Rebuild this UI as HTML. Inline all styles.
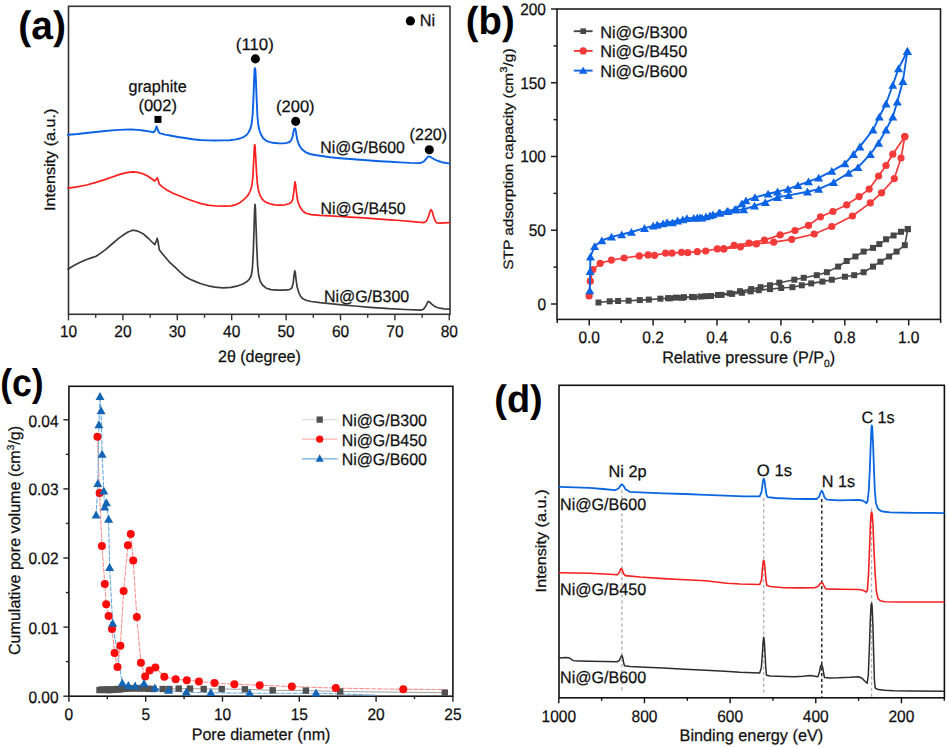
<!DOCTYPE html>
<html><head><meta charset="utf-8"><title>Figure</title>
<style>
html,body{margin:0;padding:0;background:#fff;}
body{width:948px;height:747px;overflow:hidden;}
svg{display:block;font-family:"Liberation Sans", sans-serif;text-rendering:geometricPrecision;}
</style></head>
<body>
<svg width="948" height="747" viewBox="0 0 948 747">
<rect x="0" y="0" width="948" height="747" fill="#ffffff"/>
<rect x="68.5" y="6.3" width="381.5" height="308" fill="none" stroke="#333333" stroke-width="1.6"/>
<line x1="68.5" y1="314.3" x2="68.5" y2="320.3" stroke="#333333" stroke-width="1.4"/>
<text x="68.5" y="337.4" font-size="16.59" text-anchor="middle" fill="#111" stroke="#111" stroke-width="0.25" textLength="17.24" lengthAdjust="spacingAndGlyphs">10</text>
<line x1="95.7" y1="314.3" x2="95.7" y2="317.8" stroke="#333333" stroke-width="1.4"/>
<line x1="122.9" y1="314.3" x2="122.9" y2="320.3" stroke="#333333" stroke-width="1.4"/>
<text x="122.9" y="337.4" font-size="16.59" text-anchor="middle" fill="#111" stroke="#111" stroke-width="0.25" textLength="17.24" lengthAdjust="spacingAndGlyphs">20</text>
<line x1="150.1" y1="314.3" x2="150.1" y2="317.8" stroke="#333333" stroke-width="1.4"/>
<line x1="177.3" y1="314.3" x2="177.3" y2="320.3" stroke="#333333" stroke-width="1.4"/>
<text x="177.3" y="337.4" font-size="16.59" text-anchor="middle" fill="#111" stroke="#111" stroke-width="0.25" textLength="17.24" lengthAdjust="spacingAndGlyphs">30</text>
<line x1="204.5" y1="314.3" x2="204.5" y2="317.8" stroke="#333333" stroke-width="1.4"/>
<line x1="231.7" y1="314.3" x2="231.7" y2="320.3" stroke="#333333" stroke-width="1.4"/>
<text x="231.7" y="337.4" font-size="16.59" text-anchor="middle" fill="#111" stroke="#111" stroke-width="0.25" textLength="17.24" lengthAdjust="spacingAndGlyphs">40</text>
<line x1="258.9" y1="314.3" x2="258.9" y2="317.8" stroke="#333333" stroke-width="1.4"/>
<line x1="286.1" y1="314.3" x2="286.1" y2="320.3" stroke="#333333" stroke-width="1.4"/>
<text x="286.1" y="337.4" font-size="16.59" text-anchor="middle" fill="#111" stroke="#111" stroke-width="0.25" textLength="17.24" lengthAdjust="spacingAndGlyphs">50</text>
<line x1="313.3" y1="314.3" x2="313.3" y2="317.8" stroke="#333333" stroke-width="1.4"/>
<line x1="340.5" y1="314.3" x2="340.5" y2="320.3" stroke="#333333" stroke-width="1.4"/>
<text x="340.5" y="337.4" font-size="16.59" text-anchor="middle" fill="#111" stroke="#111" stroke-width="0.25" textLength="17.24" lengthAdjust="spacingAndGlyphs">60</text>
<line x1="367.7" y1="314.3" x2="367.7" y2="317.8" stroke="#333333" stroke-width="1.4"/>
<line x1="394.9" y1="314.3" x2="394.9" y2="320.3" stroke="#333333" stroke-width="1.4"/>
<text x="394.9" y="337.4" font-size="16.59" text-anchor="middle" fill="#111" stroke="#111" stroke-width="0.25" textLength="17.24" lengthAdjust="spacingAndGlyphs">70</text>
<line x1="422.1" y1="314.3" x2="422.1" y2="317.8" stroke="#333333" stroke-width="1.4"/>
<line x1="449.3" y1="314.3" x2="449.3" y2="320.3" stroke="#333333" stroke-width="1.4"/>
<text x="449.3" y="337.4" font-size="16.59" text-anchor="middle" fill="#111" stroke="#111" stroke-width="0.25" textLength="17.24" lengthAdjust="spacingAndGlyphs">80</text>
<text x="259.4" y="362.3" font-size="16.59" text-anchor="middle" fill="#111" stroke="#111" stroke-width="0.25" textLength="82.85" lengthAdjust="spacingAndGlyphs">2θ (degree)</text>
<text x="54.6" y="159.8" font-size="14.97" text-anchor="middle" fill="#111" stroke="#111" stroke-width="0.25" textLength="102.53" lengthAdjust="spacingAndGlyphs" transform="rotate(-90 54.6 159.8)">Intensity (a.u.)</text>
<text x="42.1" y="38.75" font-size="39.77" text-anchor="middle" fill="#000" font-weight="bold" textLength="47.67" lengthAdjust="spacingAndGlyphs">(a)</text>
<polyline fill="none" stroke="#3c3c3c" stroke-width="1.7" stroke-linejoin="round" stroke-linecap="round" points="68,269.3 73,266 79.2,262.8 86,259.8 92,257.6 96.1,256.2 100,253.6 105.5,249.6 112,244 118.6,238.4 124,234.5 128,232 132.7,230.2 137,230.8 143,233.7 148,238 152,242 154.8,244.6 156.3,241 157.2,238.4 158,241.5 159.3,249.8 163,254.5 169.2,261.8 175,267.2 180.4,272.3 186,277.1 190,279.3 195,281.4 201,283.8 208.1,285.8 215,287.1 223.1,287.8 231,287.4 238,285.8 243,284 247,281.6 249.5,279 251.3,275.5 252.4,268.5 253.3,252 254,230 254.6,210 255,204.4 255.4,208 256,225 256.8,248 257.6,265 258.6,275 260.2,281.2 262.5,285 266.2,288.2 271,289.6 277.5,290.2 284,290.1 289.5,289.6 291.8,288 293.2,283 294.1,275 294.7,270.9 295.3,272.5 296,279 297.1,286.8 298.8,292.5 300.5,296.2 302.5,298.4 306,300.2 311.2,301.5 320,302.6 330,303.6 341.6,304.8 355,306 370,307.3 389.1,308.7 405,309.5 420.8,310.1 423.5,309.2 425.8,306.1 427.6,302.4 428.4,301.4 429.5,302 431.5,303.8 434,305.9 436.6,307.2 440,308.2 444,308.8 449.3,309.1"/>
<polyline fill="none" stroke="#ff1e1e" stroke-width="1.7" stroke-linejoin="round" stroke-linecap="round" points="68,188.2 77,186.8 86.7,185 96,182.4 105.5,179.4 113,176.7 120.5,174.1 127,172.6 132.7,171.9 138,172.4 143,173.7 148,176.3 152,179 154.5,181 156,179.6 157.2,177.8 158.2,180.2 159.3,184.2 163,187.4 167.3,190.2 173,193.2 180.4,196.2 188,199.2 195.4,201.8 201,203.6 208,205.2 216,206 225,206.2 231,205.8 236,204.6 240,202.7 243.7,199.7 246.5,197 248.8,194 250.5,190.5 251.8,186 252.8,178 253.6,163 254.2,150 254.6,144.6 255.1,146 255.7,157 256.5,172 257.3,183 258.4,190 259.8,194.8 262,198.8 264,200.9 266.2,202.4 270,203.8 275,204.8 279.3,205.2 285,204.8 289,203.8 291.3,202.3 292.8,199 293.8,192 294.5,185 295,181.9 295.6,184.5 296.4,192 297.3,199 298.5,203.5 300.5,207.8 303,211.3 306,213.3 311.2,214.6 320,215.3 330,215.8 340,216.5 350,217.1 360,217.7 370,218.4 380,219.1 390,219.8 400,220.5 410,221.4 418,222.2 424,222.6 426.5,221 428.5,216.5 430,211.5 431,209.6 432.2,211.4 433.6,216.5 435.2,221 437,223 440,223.1 444,222.8 449.3,222.6"/>
<polyline fill="none" stroke="#0b62e4" stroke-width="1.9" stroke-linejoin="round" stroke-linecap="round" points="68,134.8 78,134 86,133 96,132 105,131 115,130.1 124,129.6 131,129.5 138,129.9 143,130.5 149,131.4 153.5,132.3 155.3,130.3 156.6,126.4 157.9,130.3 159.5,133.2 165,134.6 170,135.5 178,137 185,138 193,139.2 200,140 208,140.4 215,140.5 223,140.4 230,140.2 236,139.4 240,138.5 244,136.8 246.5,135 248.5,132.5 250.3,129 251.6,124 252.6,115 253.5,97 254.1,80 254.6,69 255,68.2 255.4,70 255.9,80 256.6,98 257.4,116 258.3,125 259.5,130.5 261,134.5 263.2,138.3 266,140.6 269,141.9 272.8,142.8 278,143.3 283.5,143.4 287,142.9 289.5,142 291.3,140.2 292.6,136.5 293.6,131 294.4,128.6 295,128.4 295.7,130.2 296.5,135.5 297.5,140.5 299,144.7 300.8,147.8 302.8,150 306,152.4 310,154 315,155 320,155.7 330,157.2 340,158.2 350,159 360,159.7 370,160.5 380,161.2 390,161.8 400,162.4 410,162.9 418,163.1 421.5,162.8 424,161.3 426.3,158.6 428.3,156.4 430.2,156.8 432.5,158.2 435,159.7 438,161 442,162.2 446,163 449.3,163.4"/>
<circle cx="410.4" cy="20.9" r="4.6" fill="#000"/>
<text x="419.75" y="26.2" font-size="16.59" text-anchor="start" fill="#111" stroke="#111" stroke-width="0.25" textLength="15.35" lengthAdjust="spacingAndGlyphs">Ni</text>
<circle cx="255.4" cy="58.9" r="4.55" fill="#000"/>
<text x="254.85" y="49.8" font-size="16.59" text-anchor="middle" fill="#111" stroke="#111" stroke-width="0.25" textLength="37.92" lengthAdjust="spacingAndGlyphs">(110)</text>
<text x="157.55" y="91.7" font-size="16.59" text-anchor="middle" fill="#111" stroke="#111" stroke-width="0.25" textLength="58.23" lengthAdjust="spacingAndGlyphs">graphite</text>
<text x="157.65" y="110.5" font-size="16.59" text-anchor="middle" fill="#111" stroke="#111" stroke-width="0.25" textLength="38.47" lengthAdjust="spacingAndGlyphs">(002)</text>
<rect x="154.5" y="115.9" width="7" height="7" fill="#000"/>
<circle cx="295.7" cy="121.4" r="4.55" fill="#000"/>
<text x="295.3" y="111.8" font-size="16.59" text-anchor="middle" fill="#111" stroke="#111" stroke-width="0.25" textLength="38.61" lengthAdjust="spacingAndGlyphs">(200)</text>
<circle cx="429.3" cy="149.7" r="4.55" fill="#000"/>
<text x="428.35" y="139.8" font-size="16.59" text-anchor="middle" fill="#111" stroke="#111" stroke-width="0.25" textLength="37.51" lengthAdjust="spacingAndGlyphs">(220)</text>
<text x="320.25" y="153" font-size="16.59" text-anchor="start" fill="#111" stroke="#111" stroke-width="0.25" textLength="84.62" lengthAdjust="spacingAndGlyphs">Ni@G/B600</text>
<text x="320.6" y="214.3" font-size="16.59" text-anchor="start" fill="#111" stroke="#111" stroke-width="0.25" textLength="85.02" lengthAdjust="spacingAndGlyphs">Ni@G/B450</text>
<text x="323.95" y="302.4" font-size="16.59" text-anchor="start" fill="#111" stroke="#111" stroke-width="0.25" textLength="85.22" lengthAdjust="spacingAndGlyphs">Ni@G/B300</text>
<rect x="557" y="9" width="383.5" height="310.4" fill="none" stroke="#1e1e1e" stroke-width="1.6"/>
<line x1="557" y1="304" x2="551" y2="304" stroke="#1e1e1e" stroke-width="1.5"/>
<text x="546" y="309.6" font-size="16.59" text-anchor="end" fill="#111" stroke="#111" stroke-width="0.25" textLength="8.62" lengthAdjust="spacingAndGlyphs">0</text>
<line x1="557" y1="267.12" x2="553.5" y2="267.12" stroke="#1e1e1e" stroke-width="1.5"/>
<line x1="557" y1="230.25" x2="551" y2="230.25" stroke="#1e1e1e" stroke-width="1.5"/>
<text x="546" y="235.6" font-size="16.59" text-anchor="end" fill="#111" stroke="#111" stroke-width="0.25" textLength="17.24" lengthAdjust="spacingAndGlyphs">50</text>
<line x1="557" y1="193.38" x2="553.5" y2="193.38" stroke="#1e1e1e" stroke-width="1.5"/>
<line x1="557" y1="156.5" x2="551" y2="156.5" stroke="#1e1e1e" stroke-width="1.5"/>
<text x="546" y="161.6" font-size="16.59" text-anchor="end" fill="#111" stroke="#111" stroke-width="0.25" textLength="25.86" lengthAdjust="spacingAndGlyphs">100</text>
<line x1="557" y1="119.62" x2="553.5" y2="119.62" stroke="#1e1e1e" stroke-width="1.5"/>
<line x1="557" y1="82.75" x2="551" y2="82.75" stroke="#1e1e1e" stroke-width="1.5"/>
<text x="546" y="88.6" font-size="16.59" text-anchor="end" fill="#111" stroke="#111" stroke-width="0.25" textLength="25.86" lengthAdjust="spacingAndGlyphs">150</text>
<line x1="557" y1="45.88" x2="553.5" y2="45.88" stroke="#1e1e1e" stroke-width="1.5"/>
<line x1="557" y1="9" x2="551" y2="9" stroke="#1e1e1e" stroke-width="1.5"/>
<text x="546" y="14.6" font-size="16.59" text-anchor="end" fill="#111" stroke="#111" stroke-width="0.25" textLength="25.86" lengthAdjust="spacingAndGlyphs">200</text>
<line x1="557.25" y1="319.4" x2="557.25" y2="322.9" stroke="#1e1e1e" stroke-width="1.5"/>
<line x1="589.2" y1="319.4" x2="589.2" y2="325.4" stroke="#1e1e1e" stroke-width="1.5"/>
<text x="589.2" y="342.5" font-size="16.59" text-anchor="middle" fill="#111" stroke="#111" stroke-width="0.25" textLength="21.55" lengthAdjust="spacingAndGlyphs">0.0</text>
<line x1="621.15" y1="319.4" x2="621.15" y2="322.9" stroke="#1e1e1e" stroke-width="1.5"/>
<line x1="653.1" y1="319.4" x2="653.1" y2="325.4" stroke="#1e1e1e" stroke-width="1.5"/>
<text x="653.1" y="342.5" font-size="16.59" text-anchor="middle" fill="#111" stroke="#111" stroke-width="0.25" textLength="21.55" lengthAdjust="spacingAndGlyphs">0.2</text>
<line x1="685.05" y1="319.4" x2="685.05" y2="322.9" stroke="#1e1e1e" stroke-width="1.5"/>
<line x1="717" y1="319.4" x2="717" y2="325.4" stroke="#1e1e1e" stroke-width="1.5"/>
<text x="717" y="342.5" font-size="16.59" text-anchor="middle" fill="#111" stroke="#111" stroke-width="0.25" textLength="21.55" lengthAdjust="spacingAndGlyphs">0.4</text>
<line x1="748.95" y1="319.4" x2="748.95" y2="322.9" stroke="#1e1e1e" stroke-width="1.5"/>
<line x1="780.9" y1="319.4" x2="780.9" y2="325.4" stroke="#1e1e1e" stroke-width="1.5"/>
<text x="780.9" y="342.5" font-size="16.59" text-anchor="middle" fill="#111" stroke="#111" stroke-width="0.25" textLength="21.55" lengthAdjust="spacingAndGlyphs">0.6</text>
<line x1="812.85" y1="319.4" x2="812.85" y2="322.9" stroke="#1e1e1e" stroke-width="1.5"/>
<line x1="844.8" y1="319.4" x2="844.8" y2="325.4" stroke="#1e1e1e" stroke-width="1.5"/>
<text x="844.8" y="342.5" font-size="16.59" text-anchor="middle" fill="#111" stroke="#111" stroke-width="0.25" textLength="21.55" lengthAdjust="spacingAndGlyphs">0.8</text>
<line x1="876.75" y1="319.4" x2="876.75" y2="322.9" stroke="#1e1e1e" stroke-width="1.5"/>
<line x1="908.7" y1="319.4" x2="908.7" y2="325.4" stroke="#1e1e1e" stroke-width="1.5"/>
<text x="908.7" y="342.5" font-size="16.59" text-anchor="middle" fill="#111" stroke="#111" stroke-width="0.25" textLength="21.55" lengthAdjust="spacingAndGlyphs">1.0</text>
<line x1="940.65" y1="319.4" x2="940.65" y2="322.9" stroke="#1e1e1e" stroke-width="1.5"/>
<text x="748.7" y="363.2" font-size="16.59" text-anchor="middle" fill="#111" stroke="#111" stroke-width="0.25" textLength="173.03" lengthAdjust="spacingAndGlyphs">Relative pressure (P/P<tspan font-size="10.5" dy="4">0</tspan><tspan dy="-4">)</tspan></text>
<text x="513.3" y="159.1" font-size="13.58" text-anchor="middle" fill="#111" stroke="#111" stroke-width="0.25" textLength="221.42" lengthAdjust="spacingAndGlyphs" transform="rotate(-90 513.3 159.1)">STP adsorption capacity (cm<tspan font-size="10" dy="-6.5">3</tspan><tspan dy="6.5">/g)</tspan></text>
<text x="490.3" y="33.95" font-size="39.13" text-anchor="middle" fill="#000" font-weight="bold" textLength="48.87" lengthAdjust="spacingAndGlyphs">(b)</text>
<polyline fill="none" stroke="#474747" stroke-width="1.6" stroke-linejoin="round" stroke-linecap="round" points="598.5,302.5 609.7,301.3 618.1,301 628.6,300.7 639.8,300.1 648.8,299.6 660.4,298.7 668,298.2 676,297.6 684,297.2 692,296.9 700.5,296.6 711,296 721.6,294.9 732.1,293.9 741.9,292.8 750.6,291.4 758.7,290.2 770,289.1 781.2,288 792.4,287.2 801.8,285.3 811.2,283.4 822.4,281.6 831.8,279.7 844.9,276.7 854.2,275.2 863.6,272.2 873,266.6 880.4,261.7 889.1,256.5 896.6,251.6 904.8,245.2 907.8,229.1"/>
<rect x="595.5" y="299.5" width="6" height="6" fill="#474747"/>
<rect x="606.7" y="298.3" width="6" height="6" fill="#474747"/>
<rect x="615.1" y="298" width="6" height="6" fill="#474747"/>
<rect x="625.6" y="297.7" width="6" height="6" fill="#474747"/>
<rect x="636.8" y="297.1" width="6" height="6" fill="#474747"/>
<rect x="645.8" y="296.6" width="6" height="6" fill="#474747"/>
<rect x="657.4" y="295.7" width="6" height="6" fill="#474747"/>
<rect x="665" y="295.2" width="6" height="6" fill="#474747"/>
<rect x="673" y="294.6" width="6" height="6" fill="#474747"/>
<rect x="681" y="294.2" width="6" height="6" fill="#474747"/>
<rect x="689" y="293.9" width="6" height="6" fill="#474747"/>
<rect x="697.5" y="293.6" width="6" height="6" fill="#474747"/>
<rect x="708" y="293" width="6" height="6" fill="#474747"/>
<rect x="718.6" y="291.9" width="6" height="6" fill="#474747"/>
<rect x="729.1" y="290.9" width="6" height="6" fill="#474747"/>
<rect x="738.9" y="289.8" width="6" height="6" fill="#474747"/>
<rect x="747.6" y="288.4" width="6" height="6" fill="#474747"/>
<rect x="755.7" y="287.2" width="6" height="6" fill="#474747"/>
<rect x="767" y="286.1" width="6" height="6" fill="#474747"/>
<rect x="778.2" y="285" width="6" height="6" fill="#474747"/>
<rect x="789.4" y="284.2" width="6" height="6" fill="#474747"/>
<rect x="798.8" y="282.3" width="6" height="6" fill="#474747"/>
<rect x="808.2" y="280.4" width="6" height="6" fill="#474747"/>
<rect x="819.4" y="278.6" width="6" height="6" fill="#474747"/>
<rect x="828.8" y="276.7" width="6" height="6" fill="#474747"/>
<rect x="841.9" y="273.7" width="6" height="6" fill="#474747"/>
<rect x="851.2" y="272.2" width="6" height="6" fill="#474747"/>
<rect x="860.6" y="269.2" width="6" height="6" fill="#474747"/>
<rect x="870" y="263.6" width="6" height="6" fill="#474747"/>
<rect x="877.4" y="258.7" width="6" height="6" fill="#474747"/>
<rect x="886.1" y="253.5" width="6" height="6" fill="#474747"/>
<rect x="893.6" y="248.6" width="6" height="6" fill="#474747"/>
<rect x="901.8" y="242.2" width="6" height="6" fill="#474747"/>
<rect x="904.8" y="226.1" width="6" height="6" fill="#474747"/>
<polyline fill="none" stroke="#474747" stroke-width="1.6" stroke-linejoin="round" stroke-linecap="round" points="907.8,229.1 901,231.8 893.6,235.5 886.1,239.3 879.3,244.1 873,247.9 863.6,251.6 855.4,256.5 846.7,261 838.1,266.6 826.9,272.2 816.8,275.2 803.7,277.8 794.3,279.7 779.3,282.7 770,285.3 760.6,287.2 751.2,289.1 740,291.2 729.7,293.3 718,295 706,296.2 694,297.2 682,297.8 670,298.3"/>
<rect x="904.8" y="226.1" width="6" height="6" fill="#474747"/>
<rect x="898" y="228.8" width="6" height="6" fill="#474747"/>
<rect x="890.6" y="232.5" width="6" height="6" fill="#474747"/>
<rect x="883.1" y="236.3" width="6" height="6" fill="#474747"/>
<rect x="876.3" y="241.1" width="6" height="6" fill="#474747"/>
<rect x="870" y="244.9" width="6" height="6" fill="#474747"/>
<rect x="860.6" y="248.6" width="6" height="6" fill="#474747"/>
<rect x="852.4" y="253.5" width="6" height="6" fill="#474747"/>
<rect x="843.7" y="258" width="6" height="6" fill="#474747"/>
<rect x="835.1" y="263.6" width="6" height="6" fill="#474747"/>
<rect x="823.9" y="269.2" width="6" height="6" fill="#474747"/>
<rect x="813.8" y="272.2" width="6" height="6" fill="#474747"/>
<rect x="800.7" y="274.8" width="6" height="6" fill="#474747"/>
<rect x="791.3" y="276.7" width="6" height="6" fill="#474747"/>
<rect x="776.3" y="279.7" width="6" height="6" fill="#474747"/>
<rect x="767" y="282.3" width="6" height="6" fill="#474747"/>
<rect x="757.6" y="284.2" width="6" height="6" fill="#474747"/>
<rect x="748.2" y="286.1" width="6" height="6" fill="#474747"/>
<rect x="737" y="288.2" width="6" height="6" fill="#474747"/>
<rect x="726.7" y="290.3" width="6" height="6" fill="#474747"/>
<rect x="715" y="292" width="6" height="6" fill="#474747"/>
<rect x="703" y="293.2" width="6" height="6" fill="#474747"/>
<rect x="691" y="294.2" width="6" height="6" fill="#474747"/>
<rect x="679" y="294.8" width="6" height="6" fill="#474747"/>
<rect x="667" y="295.3" width="6" height="6" fill="#474747"/>
<polyline fill="none" stroke="#f53a3a" stroke-width="1.7" stroke-linejoin="round" stroke-linecap="round" points="589.1,296 590.3,281.2 592.9,269.6 600.2,263.3 611.4,260.1 624.1,258 639.3,255.9 648.1,254.9 654.5,255.3 665.6,253.2 672,253.2 681.5,252.3 687.8,252.7 697.3,251.7 705.7,251 717.3,248.9 723.7,248.9 740.5,246.8 756.4,243.9 773.7,242.2 791.7,239.3 814.2,234 831.8,226.5 852.4,216 870.3,202.9 881.6,192.8 894.3,178.6 901,158 904.8,136.6"/>
<circle cx="589.1" cy="296" r="3.6" fill="#f53a3a"/>
<circle cx="590.3" cy="281.2" r="3.6" fill="#f53a3a"/>
<circle cx="592.9" cy="269.6" r="3.6" fill="#f53a3a"/>
<circle cx="600.2" cy="263.3" r="3.6" fill="#f53a3a"/>
<circle cx="611.4" cy="260.1" r="3.6" fill="#f53a3a"/>
<circle cx="624.1" cy="258" r="3.6" fill="#f53a3a"/>
<circle cx="639.3" cy="255.9" r="3.6" fill="#f53a3a"/>
<circle cx="648.1" cy="254.9" r="3.6" fill="#f53a3a"/>
<circle cx="654.5" cy="255.3" r="3.6" fill="#f53a3a"/>
<circle cx="665.6" cy="253.2" r="3.6" fill="#f53a3a"/>
<circle cx="672" cy="253.2" r="3.6" fill="#f53a3a"/>
<circle cx="681.5" cy="252.3" r="3.6" fill="#f53a3a"/>
<circle cx="687.8" cy="252.7" r="3.6" fill="#f53a3a"/>
<circle cx="697.3" cy="251.7" r="3.6" fill="#f53a3a"/>
<circle cx="705.7" cy="251" r="3.6" fill="#f53a3a"/>
<circle cx="717.3" cy="248.9" r="3.6" fill="#f53a3a"/>
<circle cx="723.7" cy="248.9" r="3.6" fill="#f53a3a"/>
<circle cx="740.5" cy="246.8" r="3.6" fill="#f53a3a"/>
<circle cx="756.4" cy="243.9" r="3.6" fill="#f53a3a"/>
<circle cx="773.7" cy="242.2" r="3.6" fill="#f53a3a"/>
<circle cx="791.7" cy="239.3" r="3.6" fill="#f53a3a"/>
<circle cx="814.2" cy="234" r="3.6" fill="#f53a3a"/>
<circle cx="831.8" cy="226.5" r="3.6" fill="#f53a3a"/>
<circle cx="852.4" cy="216" r="3.6" fill="#f53a3a"/>
<circle cx="870.3" cy="202.9" r="3.6" fill="#f53a3a"/>
<circle cx="881.6" cy="192.8" r="3.6" fill="#f53a3a"/>
<circle cx="894.3" cy="178.6" r="3.6" fill="#f53a3a"/>
<circle cx="901" cy="158" r="3.6" fill="#f53a3a"/>
<circle cx="904.8" cy="136.6" r="3.6" fill="#f53a3a"/>
<polyline fill="none" stroke="#f53a3a" stroke-width="1.7" stroke-linejoin="round" stroke-linecap="round" points="904.8,136.6 892.8,154.2 886,165.5 878.6,176 869.2,189.1 859.1,196.6 846.7,204.8 832.9,211.5 820.5,216.8 808.5,225.4 795,230.5 780.2,234.9 764.5,240.1 749,243.2 734.2,245.4 723.7,248.9"/>
<circle cx="904.8" cy="136.6" r="3.6" fill="#f53a3a"/>
<circle cx="892.8" cy="154.2" r="3.6" fill="#f53a3a"/>
<circle cx="886" cy="165.5" r="3.6" fill="#f53a3a"/>
<circle cx="878.6" cy="176" r="3.6" fill="#f53a3a"/>
<circle cx="869.2" cy="189.1" r="3.6" fill="#f53a3a"/>
<circle cx="859.1" cy="196.6" r="3.6" fill="#f53a3a"/>
<circle cx="846.7" cy="204.8" r="3.6" fill="#f53a3a"/>
<circle cx="832.9" cy="211.5" r="3.6" fill="#f53a3a"/>
<circle cx="820.5" cy="216.8" r="3.6" fill="#f53a3a"/>
<circle cx="808.5" cy="225.4" r="3.6" fill="#f53a3a"/>
<circle cx="795" cy="230.5" r="3.6" fill="#f53a3a"/>
<circle cx="780.2" cy="234.9" r="3.6" fill="#f53a3a"/>
<circle cx="764.5" cy="240.1" r="3.6" fill="#f53a3a"/>
<circle cx="749" cy="243.2" r="3.6" fill="#f53a3a"/>
<circle cx="734.2" cy="245.4" r="3.6" fill="#f53a3a"/>
<circle cx="723.7" cy="248.9" r="3.6" fill="#f53a3a"/>
<polyline fill="none" stroke="#0b63e5" stroke-width="1.9" stroke-linejoin="round" stroke-linecap="round" points="589.8,290.5 590.1,271.2 590.4,256.7 594.6,246.3 601.9,240.5 611.5,236.9 621.7,234.5 631.4,232 644.5,228.2 653.2,225.9 663.1,223.6 672.4,222.6 682.8,219.5 693.8,218 700,217.6 706,216.5 713,214.6 720,212.9 727,211.3 734.5,209.9 743.6,209.5 754.5,205.9 765.3,202.4 777.5,197.3 788.7,195.4 807.4,191.7 818.7,189.1 833.6,182.3 848.6,173 858,167.3 870.3,154.2 878.6,143 886,129.9 892.8,116.8 897.3,101.8 902.9,81.2 907.4,51.2"/>
<polygon fill="#0b63e5" points="589.8,286.42 585.3,294.22 594.3,294.22"/>
<polygon fill="#0b63e5" points="590.1,267.12 585.6,274.92 594.6,274.92"/>
<polygon fill="#0b63e5" points="590.4,252.62 585.9,260.42 594.9,260.42"/>
<polygon fill="#0b63e5" points="594.6,242.22 590.1,250.02 599.1,250.02"/>
<polygon fill="#0b63e5" points="601.9,236.42 597.4,244.22 606.4,244.22"/>
<polygon fill="#0b63e5" points="611.5,232.82 607,240.62 616,240.62"/>
<polygon fill="#0b63e5" points="621.7,230.42 617.2,238.22 626.2,238.22"/>
<polygon fill="#0b63e5" points="631.4,227.92 626.9,235.72 635.9,235.72"/>
<polygon fill="#0b63e5" points="644.5,224.12 640,231.92 649,231.92"/>
<polygon fill="#0b63e5" points="653.2,221.82 648.7,229.62 657.7,229.62"/>
<polygon fill="#0b63e5" points="663.1,219.52 658.6,227.32 667.6,227.32"/>
<polygon fill="#0b63e5" points="672.4,218.52 667.9,226.32 676.9,226.32"/>
<polygon fill="#0b63e5" points="682.8,215.42 678.3,223.22 687.3,223.22"/>
<polygon fill="#0b63e5" points="693.8,213.92 689.3,221.72 698.3,221.72"/>
<polygon fill="#0b63e5" points="700,213.52 695.5,221.32 704.5,221.32"/>
<polygon fill="#0b63e5" points="706,212.42 701.5,220.22 710.5,220.22"/>
<polygon fill="#0b63e5" points="713,210.52 708.5,218.32 717.5,218.32"/>
<polygon fill="#0b63e5" points="720,208.82 715.5,216.62 724.5,216.62"/>
<polygon fill="#0b63e5" points="727,207.22 722.5,215.02 731.5,215.02"/>
<polygon fill="#0b63e5" points="734.5,205.82 730,213.62 739,213.62"/>
<polygon fill="#0b63e5" points="743.6,205.42 739.1,213.22 748.1,213.22"/>
<polygon fill="#0b63e5" points="754.5,201.82 750,209.62 759,209.62"/>
<polygon fill="#0b63e5" points="765.3,198.32 760.8,206.12 769.8,206.12"/>
<polygon fill="#0b63e5" points="777.5,193.22 773,201.02 782,201.02"/>
<polygon fill="#0b63e5" points="788.7,191.32 784.2,199.12 793.2,199.12"/>
<polygon fill="#0b63e5" points="807.4,187.62 802.9,195.42 811.9,195.42"/>
<polygon fill="#0b63e5" points="818.7,185.02 814.2,192.82 823.2,192.82"/>
<polygon fill="#0b63e5" points="833.6,178.22 829.1,186.02 838.1,186.02"/>
<polygon fill="#0b63e5" points="848.6,168.92 844.1,176.72 853.1,176.72"/>
<polygon fill="#0b63e5" points="858,163.22 853.5,171.02 862.5,171.02"/>
<polygon fill="#0b63e5" points="870.3,150.12 865.8,157.92 874.8,157.92"/>
<polygon fill="#0b63e5" points="878.6,138.92 874.1,146.72 883.1,146.72"/>
<polygon fill="#0b63e5" points="886,125.82 881.5,133.62 890.5,133.62"/>
<polygon fill="#0b63e5" points="892.8,112.72 888.3,120.52 897.3,120.52"/>
<polygon fill="#0b63e5" points="897.3,97.72 892.8,105.52 901.8,105.52"/>
<polygon fill="#0b63e5" points="902.9,77.12 898.4,84.92 907.4,84.92"/>
<polygon fill="#0b63e5" points="907.4,47.12 902.9,54.92 911.9,54.92"/>
<polyline fill="none" stroke="#0b63e5" stroke-width="1.9" stroke-linejoin="round" stroke-linecap="round" points="907.4,51.2 898.5,68.5 892.8,85 886,103.7 879.3,116.8 873,129.9 859.9,146.7 853.5,154.2 844.9,163.6 831.8,171.1 818.7,177.8 808.5,181.6 798,185.3 788,189.1 777.5,191.7 768.1,193.8 755,197.3 746,200.6 741.9,203.5 736,209.2 728,211.1 719,212.9 710,215.6 702,217.8 697.3,217.6 686.9,218.4 677.6,220.7 667.1,222.4 657.3,224.7"/>
<polygon fill="#0b63e5" points="907.4,47.12 902.9,54.92 911.9,54.92"/>
<polygon fill="#0b63e5" points="898.5,64.42 894,72.22 903,72.22"/>
<polygon fill="#0b63e5" points="892.8,80.92 888.3,88.72 897.3,88.72"/>
<polygon fill="#0b63e5" points="886,99.62 881.5,107.42 890.5,107.42"/>
<polygon fill="#0b63e5" points="879.3,112.72 874.8,120.52 883.8,120.52"/>
<polygon fill="#0b63e5" points="873,125.82 868.5,133.62 877.5,133.62"/>
<polygon fill="#0b63e5" points="859.9,142.62 855.4,150.42 864.4,150.42"/>
<polygon fill="#0b63e5" points="853.5,150.12 849,157.92 858,157.92"/>
<polygon fill="#0b63e5" points="844.9,159.52 840.4,167.32 849.4,167.32"/>
<polygon fill="#0b63e5" points="831.8,167.02 827.3,174.82 836.3,174.82"/>
<polygon fill="#0b63e5" points="818.7,173.72 814.2,181.52 823.2,181.52"/>
<polygon fill="#0b63e5" points="808.5,177.52 804,185.32 813,185.32"/>
<polygon fill="#0b63e5" points="798,181.22 793.5,189.02 802.5,189.02"/>
<polygon fill="#0b63e5" points="788,185.02 783.5,192.82 792.5,192.82"/>
<polygon fill="#0b63e5" points="777.5,187.62 773,195.42 782,195.42"/>
<polygon fill="#0b63e5" points="768.1,189.72 763.6,197.52 772.6,197.52"/>
<polygon fill="#0b63e5" points="755,193.22 750.5,201.02 759.5,201.02"/>
<polygon fill="#0b63e5" points="746,196.52 741.5,204.32 750.5,204.32"/>
<polygon fill="#0b63e5" points="741.9,199.42 737.4,207.22 746.4,207.22"/>
<polygon fill="#0b63e5" points="736,205.12 731.5,212.92 740.5,212.92"/>
<polygon fill="#0b63e5" points="728,207.02 723.5,214.82 732.5,214.82"/>
<polygon fill="#0b63e5" points="719,208.82 714.5,216.62 723.5,216.62"/>
<polygon fill="#0b63e5" points="710,211.52 705.5,219.32 714.5,219.32"/>
<polygon fill="#0b63e5" points="702,213.72 697.5,221.52 706.5,221.52"/>
<polygon fill="#0b63e5" points="697.3,213.52 692.8,221.32 701.8,221.32"/>
<polygon fill="#0b63e5" points="686.9,214.32 682.4,222.12 691.4,222.12"/>
<polygon fill="#0b63e5" points="677.6,216.62 673.1,224.42 682.1,224.42"/>
<polygon fill="#0b63e5" points="667.1,218.32 662.6,226.12 671.6,226.12"/>
<polygon fill="#0b63e5" points="657.3,220.62 652.8,228.42 661.8,228.42"/>
<line x1="573.8" y1="31.2" x2="592.6" y2="31.2" stroke="#474747" stroke-width="1.9"/>
<rect x="580.4" y="28.4" width="5.6" height="5.6" fill="#474747"/>
<text x="600.15" y="37.5" font-size="16.59" text-anchor="start" fill="#111" stroke="#111" stroke-width="0.25" textLength="87.04" lengthAdjust="spacingAndGlyphs">Ni@G/B300</text>
<line x1="573.8" y1="50.9" x2="592.6" y2="50.9" stroke="#f53a3a" stroke-width="1.9"/>
<circle cx="583.2" cy="50.9" r="3.6" fill="#f53a3a"/>
<text x="600.15" y="57.1" font-size="16.59" text-anchor="start" fill="#111" stroke="#111" stroke-width="0.25" textLength="87.04" lengthAdjust="spacingAndGlyphs">Ni@G/B450</text>
<line x1="573.8" y1="70.6" x2="592.6" y2="70.6" stroke="#0b63e5" stroke-width="1.9"/>
<polygon fill="#0b63e5" points="583.2,66.7 578.9,73.7 587.5,73.7"/>
<text x="600.15" y="76.7" font-size="16.59" text-anchor="start" fill="#111" stroke="#111" stroke-width="0.25" textLength="87.04" lengthAdjust="spacingAndGlyphs">Ni@G/B600</text>
<rect x="68.9" y="386.3" width="384" height="309.9" fill="none" stroke="#151515" stroke-width="1.6"/>
<line x1="68.9" y1="696.2" x2="63.4" y2="696.2" stroke="#222" stroke-width="1.4"/>
<text x="58.6" y="702.7" font-size="16.59" text-anchor="end" fill="#111" stroke="#111" stroke-width="0.25" textLength="30.17" lengthAdjust="spacingAndGlyphs">0.00</text>
<line x1="68.9" y1="661.65" x2="65.9" y2="661.65" stroke="#222" stroke-width="1.4"/>
<line x1="68.9" y1="627.1" x2="63.4" y2="627.1" stroke="#222" stroke-width="1.4"/>
<text x="58.6" y="633.9" font-size="16.59" text-anchor="end" fill="#111" stroke="#111" stroke-width="0.25" textLength="30.17" lengthAdjust="spacingAndGlyphs">0.01</text>
<line x1="68.9" y1="592.55" x2="65.9" y2="592.55" stroke="#222" stroke-width="1.4"/>
<line x1="68.9" y1="558" x2="63.4" y2="558" stroke="#222" stroke-width="1.4"/>
<text x="58.6" y="564.1" font-size="16.59" text-anchor="end" fill="#111" stroke="#111" stroke-width="0.25" textLength="30.17" lengthAdjust="spacingAndGlyphs">0.02</text>
<line x1="68.9" y1="523.45" x2="65.9" y2="523.45" stroke="#222" stroke-width="1.4"/>
<line x1="68.9" y1="488.9" x2="63.4" y2="488.9" stroke="#222" stroke-width="1.4"/>
<text x="58.6" y="495.3" font-size="16.59" text-anchor="end" fill="#111" stroke="#111" stroke-width="0.25" textLength="30.17" lengthAdjust="spacingAndGlyphs">0.03</text>
<line x1="68.9" y1="454.35" x2="65.9" y2="454.35" stroke="#222" stroke-width="1.4"/>
<line x1="68.9" y1="419.8" x2="63.4" y2="419.8" stroke="#222" stroke-width="1.4"/>
<text x="58.6" y="426.5" font-size="16.59" text-anchor="end" fill="#111" stroke="#111" stroke-width="0.25" textLength="30.17" lengthAdjust="spacingAndGlyphs">0.04</text>
<line x1="68.9" y1="696.2" x2="68.9" y2="701.7" stroke="#222" stroke-width="1.4"/>
<text x="68.9" y="719.8" font-size="16.59" text-anchor="middle" fill="#111" stroke="#111" stroke-width="0.25" textLength="8.62" lengthAdjust="spacingAndGlyphs">0</text>
<line x1="107.3" y1="696.2" x2="107.3" y2="699.2" stroke="#222" stroke-width="1.4"/>
<line x1="145.7" y1="696.2" x2="145.7" y2="701.7" stroke="#222" stroke-width="1.4"/>
<text x="145.7" y="719.8" font-size="16.59" text-anchor="middle" fill="#111" stroke="#111" stroke-width="0.25" textLength="8.62" lengthAdjust="spacingAndGlyphs">5</text>
<line x1="184.1" y1="696.2" x2="184.1" y2="699.2" stroke="#222" stroke-width="1.4"/>
<line x1="222.5" y1="696.2" x2="222.5" y2="701.7" stroke="#222" stroke-width="1.4"/>
<text x="222.5" y="719.8" font-size="16.59" text-anchor="middle" fill="#111" stroke="#111" stroke-width="0.25" textLength="17.24" lengthAdjust="spacingAndGlyphs">10</text>
<line x1="260.9" y1="696.2" x2="260.9" y2="699.2" stroke="#222" stroke-width="1.4"/>
<line x1="299.3" y1="696.2" x2="299.3" y2="701.7" stroke="#222" stroke-width="1.4"/>
<text x="299.3" y="719.8" font-size="16.59" text-anchor="middle" fill="#111" stroke="#111" stroke-width="0.25" textLength="17.24" lengthAdjust="spacingAndGlyphs">15</text>
<line x1="337.7" y1="696.2" x2="337.7" y2="699.2" stroke="#222" stroke-width="1.4"/>
<line x1="376.1" y1="696.2" x2="376.1" y2="701.7" stroke="#222" stroke-width="1.4"/>
<text x="376.1" y="719.8" font-size="16.59" text-anchor="middle" fill="#111" stroke="#111" stroke-width="0.25" textLength="17.24" lengthAdjust="spacingAndGlyphs">20</text>
<line x1="414.5" y1="696.2" x2="414.5" y2="699.2" stroke="#222" stroke-width="1.4"/>
<line x1="452.9" y1="696.2" x2="452.9" y2="701.7" stroke="#222" stroke-width="1.4"/>
<text x="452.9" y="719.8" font-size="16.59" text-anchor="middle" fill="#111" stroke="#111" stroke-width="0.25" textLength="17.24" lengthAdjust="spacingAndGlyphs">25</text>
<text x="261.05" y="740.3" font-size="16.59" text-anchor="middle" fill="#111" stroke="#111" stroke-width="0.25" textLength="138.84" lengthAdjust="spacingAndGlyphs">Pore diameter (nm)</text>
<text x="20.3" y="540.5" font-size="16.07" text-anchor="middle" fill="#111" stroke="#111" stroke-width="0.25" textLength="229.22" lengthAdjust="spacingAndGlyphs" transform="rotate(-90 20.3 540.5)">Cumulative pore volume (cm<tspan font-size="10" dy="-6.5">3</tspan><tspan dy="6.5">/g)</tspan></text>
<text x="21.95" y="396.45" font-size="38.69" text-anchor="middle" fill="#000" font-weight="bold" textLength="43.5" lengthAdjust="spacingAndGlyphs">(c)</text>
<polyline fill="none" stroke="#a0a0a0" stroke-width="1" stroke-linejoin="round" stroke-linecap="round" points="99.5,690 102,689.5 104.5,690 107,689.3 109.5,690.2 112,689.3 114.5,689.8 117,689 119.5,689.5 122,689 125,688.7 128.4,688.6 132,688.4 136,688.4 140,688.6 144,688.4 148,688.8 153.4,689 162.7,689 169.4,689 178.7,688.6 190,688.6 203.7,689 221.7,689 244.9,689.3 272.7,690.3 305.9,690.6 340.2,691.5 444.8,692.7"/>
<polyline fill="none" stroke="#ff9090" stroke-width="1.1" stroke-linejoin="round" stroke-linecap="round" stroke-dasharray="4 2" points="97.4,436.7 99.6,493.1 101.9,546 104.8,583.9 106.2,604.3 108.6,615.9 112,628.9 114.6,653 117.5,667 120.4,645.8 123.6,591.1 127.9,545.3 130.8,534 133.2,560.5 136.8,616.9 140.9,662.7 145.2,676.6 149.6,670.6 155.4,667.5 164.3,676.8 175.7,679.3 186.8,680.2 198.9,681.4 214.5,683 234.4,684.2 259.7,685.2 291.8,686.6 335.8,688.1 403.3,689.3 446,689.6"/>
<polyline fill="none" stroke="#6aaae0" stroke-width="1.1" stroke-linejoin="round" stroke-linecap="round" stroke-dasharray="4 2" points="96.1,515.3 97.8,483.9 98.9,425 100,396.7 101.1,411 102.1,454.5 103.8,491.3 104.7,507.4 106.4,503.1 108.6,519.6 109.6,567.7 112.7,623.6 122.3,683.4 128.4,685.8 135.1,686.3 144,683.9 154.9,688.2 168.6,690.6 186.3,692.3 210.8,692.7 249.6,693.2 316,693.2 374,695"/>
<rect x="96.3" y="686.8" width="6.4" height="6.4" fill="#505050"/>
<rect x="98.8" y="686.3" width="6.4" height="6.4" fill="#505050"/>
<rect x="101.3" y="686.8" width="6.4" height="6.4" fill="#505050"/>
<rect x="103.8" y="686.1" width="6.4" height="6.4" fill="#505050"/>
<rect x="106.3" y="687" width="6.4" height="6.4" fill="#505050"/>
<rect x="108.8" y="686.1" width="6.4" height="6.4" fill="#505050"/>
<rect x="111.3" y="686.6" width="6.4" height="6.4" fill="#505050"/>
<rect x="113.8" y="685.8" width="6.4" height="6.4" fill="#505050"/>
<rect x="116.3" y="686.3" width="6.4" height="6.4" fill="#505050"/>
<rect x="118.8" y="685.8" width="6.4" height="6.4" fill="#505050"/>
<rect x="121.8" y="685.5" width="6.4" height="6.4" fill="#505050"/>
<rect x="125.2" y="685.4" width="6.4" height="6.4" fill="#505050"/>
<rect x="128.8" y="685.2" width="6.4" height="6.4" fill="#505050"/>
<rect x="132.8" y="685.2" width="6.4" height="6.4" fill="#505050"/>
<rect x="136.8" y="685.4" width="6.4" height="6.4" fill="#505050"/>
<rect x="140.8" y="685.2" width="6.4" height="6.4" fill="#505050"/>
<rect x="144.8" y="685.6" width="6.4" height="6.4" fill="#505050"/>
<rect x="150.2" y="685.8" width="6.4" height="6.4" fill="#505050"/>
<rect x="159.5" y="685.8" width="6.4" height="6.4" fill="#505050"/>
<rect x="166.2" y="685.8" width="6.4" height="6.4" fill="#505050"/>
<rect x="175.5" y="685.4" width="6.4" height="6.4" fill="#505050"/>
<rect x="186.8" y="685.4" width="6.4" height="6.4" fill="#505050"/>
<rect x="200.5" y="685.8" width="6.4" height="6.4" fill="#505050"/>
<rect x="218.5" y="685.8" width="6.4" height="6.4" fill="#505050"/>
<rect x="241.7" y="686.1" width="6.4" height="6.4" fill="#505050"/>
<rect x="269.5" y="687.1" width="6.4" height="6.4" fill="#505050"/>
<rect x="302.7" y="687.4" width="6.4" height="6.4" fill="#505050"/>
<rect x="337" y="688.3" width="6.4" height="6.4" fill="#505050"/>
<rect x="441.6" y="689.5" width="6.4" height="6.4" fill="#505050"/>
<circle cx="97.4" cy="436.7" r="4" fill="#ff0a0a"/>
<circle cx="99.6" cy="493.1" r="4" fill="#ff0a0a"/>
<circle cx="101.9" cy="546" r="4" fill="#ff0a0a"/>
<circle cx="104.8" cy="583.9" r="4" fill="#ff0a0a"/>
<circle cx="106.2" cy="604.3" r="4" fill="#ff0a0a"/>
<circle cx="108.6" cy="615.9" r="4" fill="#ff0a0a"/>
<circle cx="112" cy="628.9" r="4" fill="#ff0a0a"/>
<circle cx="114.6" cy="653" r="4" fill="#ff0a0a"/>
<circle cx="117.5" cy="667" r="4" fill="#ff0a0a"/>
<circle cx="120.4" cy="645.8" r="4" fill="#ff0a0a"/>
<circle cx="123.6" cy="591.1" r="4" fill="#ff0a0a"/>
<circle cx="127.9" cy="545.3" r="4" fill="#ff0a0a"/>
<circle cx="130.8" cy="534" r="4" fill="#ff0a0a"/>
<circle cx="133.2" cy="560.5" r="4" fill="#ff0a0a"/>
<circle cx="136.8" cy="616.9" r="4" fill="#ff0a0a"/>
<circle cx="140.9" cy="662.7" r="4" fill="#ff0a0a"/>
<circle cx="145.2" cy="676.6" r="4" fill="#ff0a0a"/>
<circle cx="149.6" cy="670.6" r="4" fill="#ff0a0a"/>
<circle cx="155.4" cy="667.5" r="4" fill="#ff0a0a"/>
<circle cx="164.3" cy="676.8" r="4" fill="#ff0a0a"/>
<circle cx="175.7" cy="679.3" r="4" fill="#ff0a0a"/>
<circle cx="186.8" cy="680.2" r="4" fill="#ff0a0a"/>
<circle cx="198.9" cy="681.4" r="4" fill="#ff0a0a"/>
<circle cx="214.5" cy="683" r="4" fill="#ff0a0a"/>
<circle cx="234.4" cy="684.2" r="4" fill="#ff0a0a"/>
<circle cx="259.7" cy="685.2" r="4" fill="#ff0a0a"/>
<circle cx="291.8" cy="686.6" r="4" fill="#ff0a0a"/>
<circle cx="335.8" cy="688.1" r="4" fill="#ff0a0a"/>
<circle cx="403.3" cy="689.3" r="4" fill="#ff0a0a"/>
<polygon fill="#1565b5" points="96.1,510.5 91.6,518.5 100.6,518.5"/>
<polygon fill="#1565b5" points="97.8,479.1 93.3,487.1 102.3,487.1"/>
<polygon fill="#1565b5" points="98.9,420.2 94.4,428.2 103.4,428.2"/>
<polygon fill="#1565b5" points="100,391.9 95.5,399.9 104.5,399.9"/>
<polygon fill="#1565b5" points="101.1,406.2 96.6,414.2 105.6,414.2"/>
<polygon fill="#1565b5" points="102.1,449.7 97.6,457.7 106.6,457.7"/>
<polygon fill="#1565b5" points="103.8,486.5 99.3,494.5 108.3,494.5"/>
<polygon fill="#1565b5" points="104.7,502.6 100.2,510.6 109.2,510.6"/>
<polygon fill="#1565b5" points="106.4,498.3 101.9,506.3 110.9,506.3"/>
<polygon fill="#1565b5" points="108.6,514.8 104.1,522.8 113.1,522.8"/>
<polygon fill="#1565b5" points="109.6,562.9 105.1,570.9 114.1,570.9"/>
<polygon fill="#1565b5" points="112.7,618.8 108.2,626.8 117.2,626.8"/>
<polygon fill="#1565b5" points="122.3,678.6 117.8,686.6 126.8,686.6"/>
<polygon fill="#1565b5" points="128.4,681 123.9,689 132.9,689"/>
<polygon fill="#1565b5" points="135.1,681.5 130.6,689.5 139.6,689.5"/>
<polygon fill="#1565b5" points="144,679.1 139.5,687.1 148.5,687.1"/>
<polygon fill="#1565b5" points="154.9,683.4 150.4,691.4 159.4,691.4"/>
<polygon fill="#1565b5" points="168.6,685.8 164.1,693.8 173.1,693.8"/>
<polygon fill="#1565b5" points="186.3,687.5 181.8,695.5 190.8,695.5"/>
<polygon fill="#1565b5" points="210.8,687.9 206.3,695.9 215.3,695.9"/>
<polygon fill="#1565b5" points="249.6,688.4 245.1,696.4 254.1,696.4"/>
<polygon fill="#1565b5" points="316,688.4 311.5,696.4 320.5,696.4"/>
<line x1="301.9" y1="419.6" x2="337.5" y2="419.6" stroke="#dddddd" stroke-width="1.3"/>
<rect x="316.55" y="416.45" width="6.3" height="6.3" fill="#505050"/>
<text x="341.65" y="425.9" font-size="16.59" text-anchor="start" fill="#111" stroke="#111" stroke-width="0.25" textLength="85.22" lengthAdjust="spacingAndGlyphs">Ni@G/B300</text>
<line x1="301.9" y1="439.2" x2="337.5" y2="439.2" stroke="#ffb0b0" stroke-width="1.3"/>
<circle cx="319.7" cy="439.2" r="3.6" fill="#ff0a0a"/>
<text x="341.65" y="445.7" font-size="16.59" text-anchor="start" fill="#111" stroke="#111" stroke-width="0.25" textLength="85.22" lengthAdjust="spacingAndGlyphs">Ni@G/B450</text>
<line x1="301.9" y1="458.8" x2="337.5" y2="458.8" stroke="#6aaee0" stroke-width="1.3"/>
<polygon fill="#1565b5" points="319.7,454.3 315.7,461.8 323.7,461.8"/>
<text x="341.65" y="464.5" font-size="16.59" text-anchor="start" fill="#111" stroke="#111" stroke-width="0.25" textLength="85.22" lengthAdjust="spacingAndGlyphs">Ni@G/B600</text>
<rect x="559" y="385.3" width="385.4" height="312.5" fill="none" stroke="#111" stroke-width="1.6"/>
<line x1="558.8" y1="697.8" x2="558.8" y2="703.3" stroke="#111" stroke-width="1.4"/>
<text x="558.8" y="721.7" font-size="16.59" text-anchor="middle" fill="#111" stroke="#111" stroke-width="0.25" textLength="34.48" lengthAdjust="spacingAndGlyphs">1000</text>
<line x1="601.63" y1="697.8" x2="601.63" y2="700.8" stroke="#111" stroke-width="1.4"/>
<line x1="644.46" y1="697.8" x2="644.46" y2="703.3" stroke="#111" stroke-width="1.4"/>
<text x="644.46" y="721.7" font-size="16.59" text-anchor="middle" fill="#111" stroke="#111" stroke-width="0.25" textLength="25.86" lengthAdjust="spacingAndGlyphs">800</text>
<line x1="687.29" y1="697.8" x2="687.29" y2="700.8" stroke="#111" stroke-width="1.4"/>
<line x1="730.12" y1="697.8" x2="730.12" y2="703.3" stroke="#111" stroke-width="1.4"/>
<text x="730.12" y="721.7" font-size="16.59" text-anchor="middle" fill="#111" stroke="#111" stroke-width="0.25" textLength="25.86" lengthAdjust="spacingAndGlyphs">600</text>
<line x1="772.95" y1="697.8" x2="772.95" y2="700.8" stroke="#111" stroke-width="1.4"/>
<line x1="815.78" y1="697.8" x2="815.78" y2="703.3" stroke="#111" stroke-width="1.4"/>
<text x="815.78" y="721.7" font-size="16.59" text-anchor="middle" fill="#111" stroke="#111" stroke-width="0.25" textLength="25.86" lengthAdjust="spacingAndGlyphs">400</text>
<line x1="858.61" y1="697.8" x2="858.61" y2="700.8" stroke="#111" stroke-width="1.4"/>
<line x1="901.44" y1="697.8" x2="901.44" y2="703.3" stroke="#111" stroke-width="1.4"/>
<text x="901.44" y="721.7" font-size="16.59" text-anchor="middle" fill="#111" stroke="#111" stroke-width="0.25" textLength="25.86" lengthAdjust="spacingAndGlyphs">200</text>
<line x1="944.27" y1="697.8" x2="944.27" y2="700.8" stroke="#111" stroke-width="1.4"/>
<text x="751.4" y="740.6" font-size="16.59" text-anchor="middle" fill="#111" stroke="#111" stroke-width="0.25" textLength="143.63" lengthAdjust="spacingAndGlyphs">Binding energy (eV)</text>
<text x="545.9" y="540.9" font-size="14.71" text-anchor="middle" fill="#111" stroke="#111" stroke-width="0.25" textLength="102.93" lengthAdjust="spacingAndGlyphs" transform="rotate(-90 545.9 540.9)">Intensity (a.u.)</text>
<text x="518.5" y="412.05" font-size="38.25" text-anchor="middle" fill="#000" font-weight="bold" textLength="48.37" lengthAdjust="spacingAndGlyphs">(d)</text>
<line x1="621.9" y1="490" x2="621.9" y2="692" stroke="#b0b0b0" stroke-width="1.3" stroke-dasharray="3.2 2.6"/>
<line x1="763.7" y1="498" x2="763.7" y2="695" stroke="#b0b0b0" stroke-width="1.3" stroke-dasharray="3.2 2.6"/>
<line x1="821.8" y1="499" x2="821.8" y2="697" stroke="#1a1a1a" stroke-width="1.4" stroke-dasharray="3.2 2.6"/>
<line x1="871.6" y1="508" x2="871.6" y2="697" stroke="#b0b0b0" stroke-width="1.3" stroke-dasharray="3.2 2.6"/>
<polyline fill="none" stroke="#2c2c2c" stroke-width="1.5" stroke-linejoin="round" stroke-linecap="round" points="559.5,657.9 566,657.6 569.6,658 572,659.8 573.8,660.7 580,661 589.6,661.3 605,661.5 617.1,661.7 619.3,660.5 620.6,657.5 621.7,655.4 622.8,657.8 623.6,662.5 624.5,665.8 630,666.6 645,667.3 663.5,668.1 685,669.2 705.7,670.2 725,671.2 740,672.3 759.7,672.9 761.3,668 762.3,655 763.1,642 763.7,637.2 764.3,641 765.1,655 765.8,668 766.5,675.3 770,676 785,676.5 794.8,676.7 803,676.3 810.2,675.6 815,676.3 817.9,676.7 819.5,672 820.6,666 821.6,664.6 822.6,667 823.6,673 824.5,677.6 830,677.9 838.7,677.8 850,677.3 858.5,676.7 862,678.2 865,681.2 867.2,683.2 868.3,675 869.3,650 870.3,620 871.1,605 871.6,603.2 872.1,606 872.9,625 873.7,655 874.4,680 875.2,688 878,689.6 885,690.3 893.6,690.8 910,691.1 943.8,691.2"/>
<polyline fill="none" stroke="#f52020" stroke-width="1.6" stroke-linejoin="round" stroke-linecap="round" points="559.5,572.7 575,573 589.6,573.3 605,574 617.1,574.8 619.3,572.5 620.5,569.5 621.3,568.4 622.3,570 623.6,573.8 625.5,575.6 640,577 663.5,578.6 685,579.7 705.7,580.7 726.8,583.3 740,584 759.7,584.5 761.5,580 762.5,568 763.2,561.5 763.7,560.3 764.3,562 765.1,570 766,580 766.8,585.3 770,586.5 783.9,587.8 800,587.9 814.6,587.8 818,586.5 820.3,583.6 821.6,582.3 822.9,583.5 824.5,587 825.8,588.9 840,589.3 858.5,589.5 863,590.2 866.2,592.1 867.4,590 868.5,575 869.5,550 870.4,525 871.1,514 871.6,512.1 872.2,514 873,525 874,550 875.2,575 876.5,592 878,598.5 880.4,600.8 884.8,601.8 900,602 920,602 943.8,602"/>
<polyline fill="none" stroke="#0b66e0" stroke-width="1.8" stroke-linejoin="round" stroke-linecap="round" points="559.5,486.8 575,487.3 589.6,487.8 603,489 615,490.2 618.5,488.5 620.5,485.5 621.9,484.3 623.5,485.8 625.5,489.2 629.7,491.8 640,492.4 663.5,493.3 685,494 705.7,494.8 725,495.6 743.6,496.3 759.7,496.4 761.5,492 762.6,484 763.3,479.3 763.9,478.7 764.6,481 765.5,488.5 766.4,494.5 767.6,497.2 775,498 794.8,498.9 805,499 816.8,499 819.2,496.5 820.8,492 821.8,490.7 822.9,492.6 824.5,497.5 827,499.6 838.7,500.4 850,500.2 858.5,500 862.5,500.5 865,502 866.5,503.2 867.6,501 868.8,490 869.8,470 870.7,445 871.4,428 871.8,425.4 872.3,428 873.1,445 874,470 874.9,492 876,503.5 878,508.6 880.5,510.8 882.6,511.5 890,512.3 900,512.6 915.5,512.8 930,512.9 943.8,513.1"/>
<text x="627.6" y="476.7" font-size="16.59" text-anchor="middle" fill="#111" stroke="#111" stroke-width="0.25" textLength="38.06" lengthAdjust="spacingAndGlyphs">Ni 2p</text>
<text x="774.5" y="476.1" font-size="16.59" text-anchor="middle" fill="#111" stroke="#111" stroke-width="0.25" textLength="35.27" lengthAdjust="spacingAndGlyphs">O 1s</text>
<text x="838.55" y="486.8" font-size="16.59" text-anchor="middle" fill="#111" stroke="#111" stroke-width="0.25" textLength="33.36" lengthAdjust="spacingAndGlyphs">N 1s</text>
<text x="878.05" y="423.1" font-size="16.59" text-anchor="middle" fill="#111" stroke="#111" stroke-width="0.25" textLength="33.35" lengthAdjust="spacingAndGlyphs">C 1s</text>
<text x="560" y="509.8" font-size="16.59" text-anchor="start" fill="#111" stroke="#111" stroke-width="0.25" textLength="86.22" lengthAdjust="spacingAndGlyphs">Ni@G/B600</text>
<text x="560" y="595" font-size="16.59" text-anchor="start" fill="#111" stroke="#111" stroke-width="0.25" textLength="86.22" lengthAdjust="spacingAndGlyphs">Ni@G/B450</text>
<text x="560" y="683.2" font-size="16.59" text-anchor="start" fill="#111" stroke="#111" stroke-width="0.25" textLength="86.22" lengthAdjust="spacingAndGlyphs">Ni@G/B600</text>
</svg>
</body></html>
